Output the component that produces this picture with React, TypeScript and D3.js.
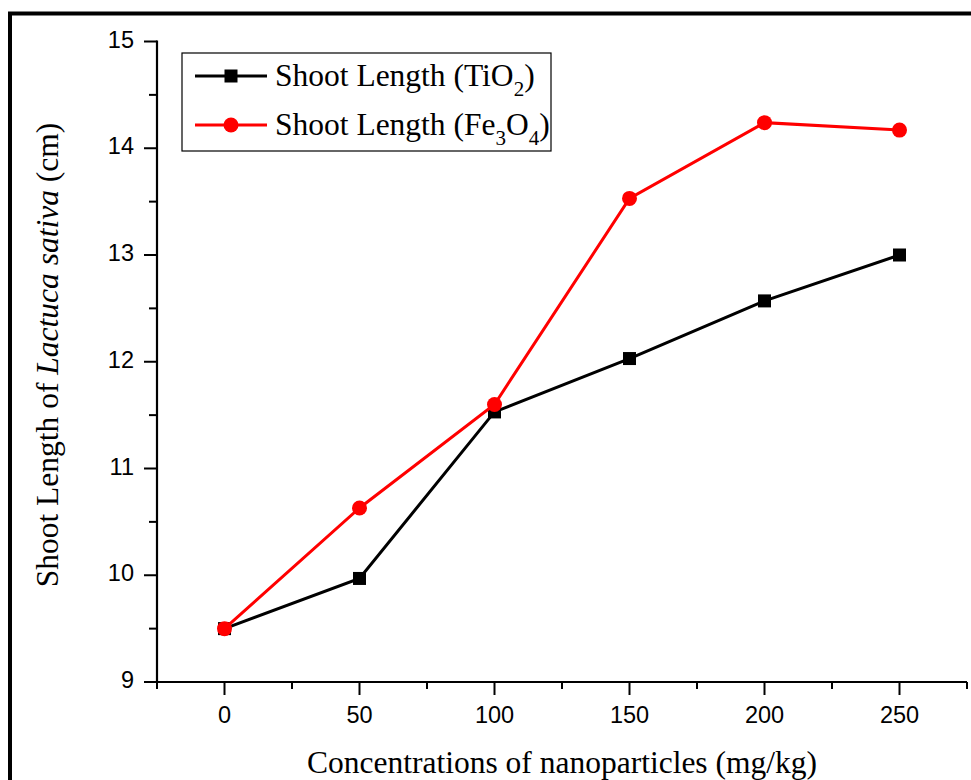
import React from "react";
import * as d3 from "d3";

const concentrations = [0, 50, 100, 150, 200, 250];
const tio2Values = [9.5, 9.97, 11.53, 12.03, 12.57, 13.0];
const fe3o4Values = [9.5, 10.63, 11.6, 13.53, 14.24, 14.17];
const xMajorTicks = [0, 50, 100, 150, 200, 250];
const xMinorTicks = [-25, 25, 75, 125, 175, 225, 275];
const yMajorTicks = [9, 10, 11, 12, 13, 14, 15];
const yMinorTicks = [9.5, 10.5, 11.5, 12.5, 13.5, 14.5];

const W = 971;
const H = 780;
const left = 157;
const right = 967;
const top = 41.5;
const bottom = 682;

export default function App() {
  const x = d3.scaleLinear().domain([-25, 275]).range([left, right]);
  const y = d3.scaleLinear().domain([9, 15]).range([bottom, top]);
  const line = d3
    .line<[number, number]>()
    .x((d) => x(d[0]))
    .y((d) => y(d[1]));
  const tioPts: [number, number][] = concentrations.map((c, i) => [c, tio2Values[i]]);
  const fePts: [number, number][] = concentrations.map((c, i) => [c, fe3o4Values[i]]);
  const serif = "'Liberation Serif', 'Times New Roman', serif";
  const sans = "'Liberation Sans', Arial, sans-serif";
  const sq = 13;
  const r = 7.5;
  const fs = 31.5;

  return (
    <svg
      width={W}
      height={H}
      style={{ position: "absolute", left: 0, top: 0, background: "#fff" }}
    >
      <rect x={0} y={0} width={W} height={H} fill="#fff" />
      <rect x={10} y={13.5} width={1100} height={900} fill="none" stroke="#000" strokeWidth={4} />

      {/* axes */}
      <line x1={left} x2={left} y1={top - 1} y2={bottom + 1} stroke="#000" strokeWidth={2.2} />
      <line x1={left - 1} x2={right} y1={bottom} y2={bottom} stroke="#000" strokeWidth={2.2} />
      {xMajorTicks.map((t) => (
        <g key={"xM" + t}>
          <line x1={x(t)} x2={x(t)} y1={bottom} y2={bottom + 13} stroke="#000" strokeWidth={2} />
          <text x={x(t)} y={723} textAnchor="middle" fontFamily={sans} fontSize={23.5}>
            {t}
          </text>
        </g>
      ))}
      {xMinorTicks.map((t) => (
        <line key={"xm" + t} x1={x(t)} x2={x(t)} y1={bottom} y2={bottom + 7} stroke="#000" strokeWidth={2} />
      ))}
      {yMajorTicks.map((t) => (
        <g key={"yM" + t}>
          <line x1={left} x2={left - 13} y1={y(t)} y2={y(t)} stroke="#000" strokeWidth={2} />
          <text x={134} y={y(t) + 6} textAnchor="end" fontFamily={sans} fontSize={23.5}>
            {t}
          </text>
        </g>
      ))}
      {yMinorTicks.map((t) => (
        <line key={"ym" + t} x1={left} x2={left - 8} y1={y(t)} y2={y(t)} stroke="#000" strokeWidth={2} />
      ))}

      {/* titles */}
      <text x={(left + right) / 2} y={773} textAnchor="middle" fontFamily={serif} fontSize={fs}>
        Concentrations of nanoparticles (mg/kg)
      </text>
      <text
        transform={`translate(58, 355) rotate(-90)`}
        textAnchor="middle"
        fontFamily={serif}
        fontSize={fs}
      >
        Shoot Length of <tspan fontStyle="italic">Lactuca sativa</tspan> (cm)
      </text>

      {/* series */}
      <path d={line(tioPts) || ""} fill="none" stroke="#000" strokeWidth={3} />
      {tioPts.map((p, i) => (
        <rect key={"s" + i} x={x(p[0]) - sq / 2} y={y(p[1]) - sq / 2} width={sq} height={sq} fill="#000" />
      ))}
      <path d={line(fePts) || ""} fill="none" stroke="#ff0000" strokeWidth={3} />
      {fePts.map((p, i) => (
        <circle key={"c" + i} cx={x(p[0])} cy={y(p[1])} r={r} fill="#ff0000" />
      ))}

      {/* legend */}
      <rect x={182} y={53} width={369} height={98} fill="#fff" stroke="#000" strokeWidth={1.2} />
      <line x1={195} x2={267} y1={76} y2={76} stroke="#000" strokeWidth={3} />
      <rect x={231 - sq / 2} y={76 - sq / 2} width={sq} height={sq} fill="#000" />
      <text x={275} y={86} fontFamily={serif} fontSize={fs}>
        Shoot Length (TiO<tspan fontSize={21} dy={10}>2</tspan>
        <tspan dy={-10}>)</tspan>
      </text>
      <line x1={195} x2={267} y1={125} y2={125} stroke="#ff0000" strokeWidth={3} />
      <circle cx={231} cy={125} r={r} fill="#ff0000" />
      <text x={275} y={135} fontFamily={serif} fontSize={fs}>
        Shoot Length (Fe<tspan fontSize={21} dy={10}>3</tspan>
        <tspan dy={-10}>O</tspan>
        <tspan fontSize={21} dy={10}>4</tspan>
        <tspan dy={-10}>)</tspan>
      </text>
    </svg>
  );
}
